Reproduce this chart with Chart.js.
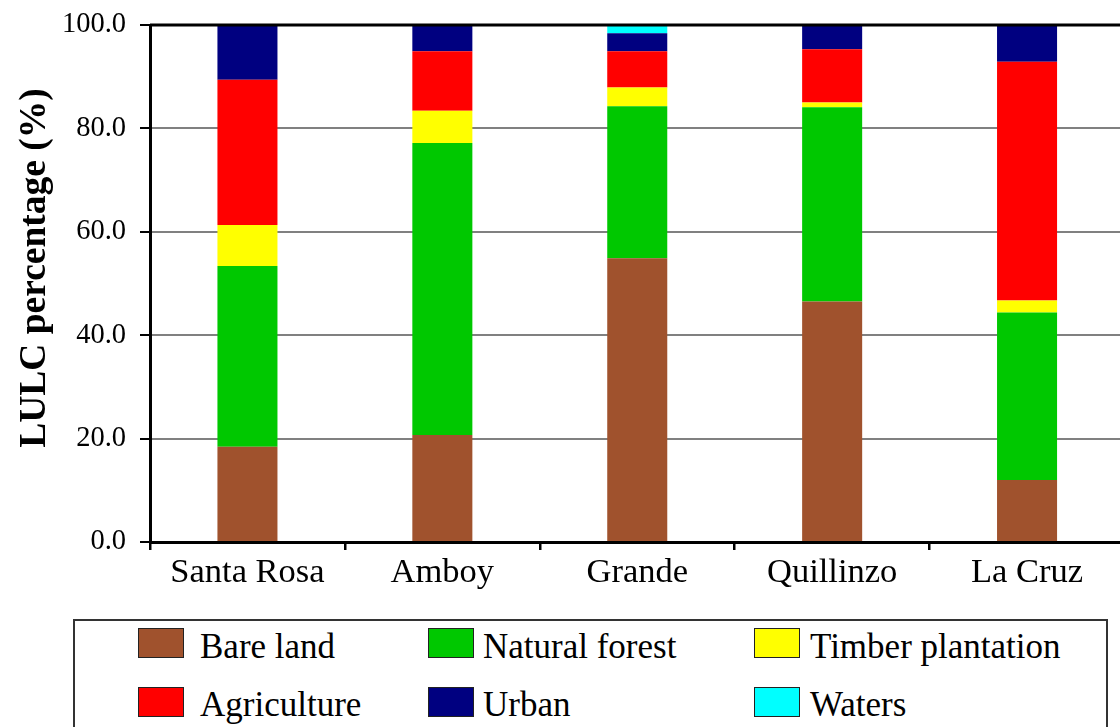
<!DOCTYPE html>
<html>
<head>
<meta charset="utf-8">
<script src="https://cdn.jsdelivr.net/npm/chart.js@4.4.1/dist/chart.umd.min.js"></script>
<style>
  html, body { margin: 0; padding: 0; background: #fff; overflow: hidden; width: 1120px; height: 727px; }
  #chart { position: absolute; left: 0; top: 0; }
  #legend { position: absolute; left: 73px; top: 619px; width: 1035px; height: 140px; border: 2px solid #333; box-sizing: border-box; }
  .item { position: absolute; font-family: "Liberation Serif", "Times New Roman", serif; font-size: 35px; color: #000; line-height: 35px; white-space: nowrap; }
  .sw { position: absolute; width: 46px; height: 30px; border: 1px solid #222; box-sizing: border-box; }
</style>
</head>
<body>
<canvas id="chart" width="1130" height="600"></canvas>
<div id="legend"></div>
<script>
// Watersheds (x categories)
const watersheds = ["Santa Rosa", "Amboy", "Grande", "Quillinzo", "La Cruz"];

// Land use / land cover share of each watershed (%)
const bareLand       = [18.4, 20.7, 54.9, 46.5, 12.0];
const naturalForest  = [35.0, 56.5, 29.4, 37.6, 32.4];
const timberPlant    = [7.9, 6.2, 3.6, 0.9, 2.3];
const agriculture    = [28.1, 11.5, 7.0, 10.3, 46.2];
const urban          = [10.6, 5.1, 3.5, 4.7, 7.1];
const waters         = [0.0, 0.0, 1.6, 0.0, 0.0];

const yTicks = [0, 20, 40, 60, 80, 100];

const classNames  = ["Bare land", "Natural forest", "Timber plantation", "Agriculture", "Urban", "Waters"];
const classValues = [bareLand, naturalForest, timberPlant, agriculture, urban, waters];
const classColors = ["#A0522D", "#00C800", "#FFFF00", "#FF0000", "#000080", "#00FFFF"];

const SERIF = '"Liberation Serif", "Times New Roman", serif';

// Rotated bold axis title, plus the black frame line along the top of the plot
const decorPlugin = {
  id: 'decor',
  afterDatasetsDraw(chart) {
    const ctx = chart.ctx, a = chart.chartArea;
    ctx.save();
    ctx.strokeStyle = '#000';
    ctx.lineWidth = 3;
    ctx.beginPath();
    ctx.moveTo(a.left, a.top);
    ctx.lineTo(a.right, a.top);
    ctx.stroke();
    ctx.restore();
  },
  afterDraw(chart) {
    const ctx = chart.ctx;
    ctx.save();
    ctx.translate(45, 268);
    ctx.rotate(-Math.PI / 2);
    ctx.font = 'bold 37.5px ' + SERIF;
    ctx.fillStyle = '#000';
    ctx.textAlign = 'center';
    ctx.textBaseline = 'alphabetic';
    ctx.fillText('LULC percentage (%)', 0, 0);
    ctx.restore();
  }
};

const chart = new Chart(document.getElementById('chart'), {
  type: 'bar',
  data: {
    labels: watersheds,
    datasets: classNames.map((name, i) => ({
      label: name,
      data: classValues[i],
      backgroundColor: classColors[i],
      borderWidth: 0,
      barPercentage: 0.308,
      categoryPercentage: 1.0
    }))
  },
  options: {
    responsive: false,
    animation: false,
    layout: { padding: { top: 25, right: 5.5, left: 0, bottom: 0 } },
    plugins: { legend: { display: false }, tooltip: { enabled: false } },
    scales: {
      x: {
        stacked: true,
        afterFit(scale) { scale.height = 58; scale.paddingLeft = 0; scale.paddingRight = 0; },
        grid: { offset: true, drawOnChartArea: false, drawTicks: true, tickLength: 8, color: '#000', lineWidth: 2.5 },
        border: { display: true, color: '#000', width: 3 },
        ticks: { color: '#000', font: { family: SERIF, size: 34.5 }, padding: 2, maxRotation: 0, autoSkip: false }
      },
      y: {
        stacked: true,
        min: 0,
        max: 100,
        afterFit(scale) { scale.width = 150; scale.paddingTop = 0; scale.paddingBottom = 0; },
        afterBuildTicks(scale) { scale.ticks = yTicks.map(v => ({ value: v })); },
        grid: {
          color: '#808080',
          lineWidth: 2,
          tickColor: '#000',
          tickLength: 10,
          drawTicks: true
        },
        border: { display: true, color: '#000', width: 3 },
        ticks: {
          color: '#000',
          font: { family: SERIF, size: 28.5 },
          padding: 14,
          callback: v => Number(v).toFixed(1)
        }
      }
    }
  },
  plugins: [decorPlugin]
});

// Legend box: two rows of three classes
const legend = document.getElementById('legend');
const colSwatchX = [62.7, 353, 679];
const colTextX   = [125, 408, 735];
const rowSwatchY = [7, 66];
const rowTextY   = [8, 66.4];
chart.data.datasets.forEach((ds, i) => {
  const col = i % 3, row = Math.floor(i / 3);
  const sw = document.createElement('div');
  sw.className = 'sw';
  sw.style.left = colSwatchX[col] + 'px';
  sw.style.top = rowSwatchY[row] + 'px';
  sw.style.background = ds.backgroundColor;
  legend.appendChild(sw);
  const t = document.createElement('div');
  t.className = 'item';
  t.style.left = colTextX[col] + 'px';
  t.style.top = rowTextY[row] + 'px';
  t.textContent = ds.label;
  legend.appendChild(t);
});
</script>
</body>
</html>
